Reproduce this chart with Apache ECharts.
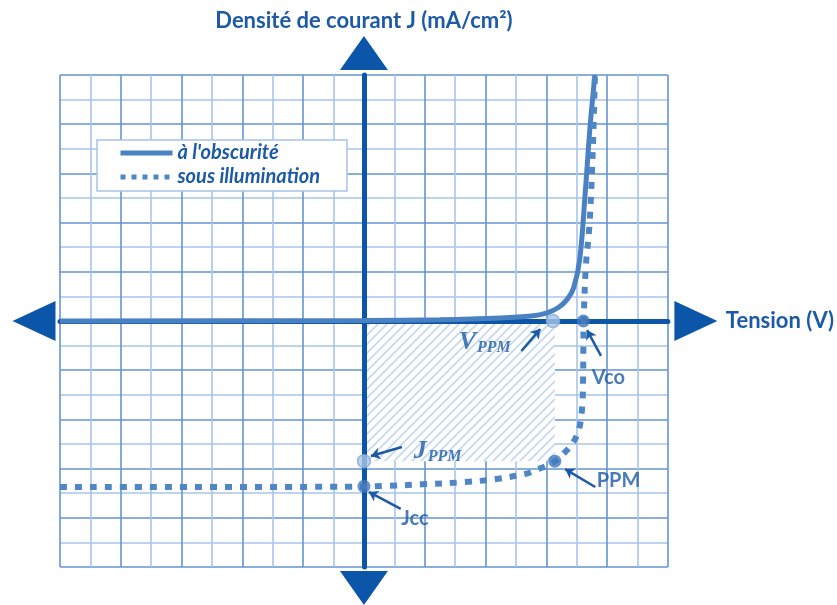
<!DOCTYPE html>
<html>
<head>
<meta charset="utf-8">
<script src="https://cdn.jsdelivr.net/npm/echarts@6/dist/echarts.min.js"></script>
<style>
html, body { margin: 0; padding: 0; background: #fff; }
#chart { width: 837px; height: 605px; }
</style>
</head>
<body>
<div id="chart"></div>
<script>
// J(V) values (V in grid squares, J in grid squares)
const darkCurve = [[-10, 0], [0, 0.02], [2.5, 0.05], [4.5, 0.12], [5.5, 0.2], [6.0, 0.32], [6.4, 0.55],
  [6.7, 0.9], [6.9, 1.35], [7.1, 2.5], [7.28, 5.2], [7.44, 7.9], [7.6, 10]];
const lightCurve = [[-10, -6.75], [-0.6, -6.74], [0.8, -6.7], [1.9, -6.64], [3.3, -6.55], [4.3, -6.43],
  [5.3, -6.22], [5.75, -6.02], [6.3, -5.69], [6.62, -5.33], [6.89, -4.92], [7.08, -4.39], [7.18, -3.5],
  [7.21, -2.4], [7.22, -1], [7.23, 0], [7.3, 2.2], [7.42, 3.9], [7.52, 6.6], [7.6, 10]];

const vppm = [6.22, 0];
const vco = [7.22, 0];
const ppm = [6.28, -5.7];
const jppm = [0, -5.7];
const jcc = [0, -6.72];

const labelNames = ['VPPM', 'JPPM', 'Vco', 'PPM', 'Jcc'];
const labelPos = [[3.1, -0.85], [1.62, -5.28], [7.48, -2.28], [7.64, -6.5], [1.21, -8.05]];
const arrowFrom = [[5.18, -1.22], [1.25, -5.12], [7.8, -1.42], [7.61, -6.75], [1.21, -7.64]];
const arrowTo = [[5.8, -0.33], [0.23, -5.49], [7.34, -0.37], [6.62, -6.02], [0.16, -6.95]];

const seriesNames = ["à l'obscurité", 'sous illumination'];

const blue = '#1d5aa6';
const axisBlue = '#0b56a8';

// hatch pattern for the power rectangle
const hatch = document.createElement('canvas');
hatch.width = 9;
hatch.height = 9;
const hctx = hatch.getContext('2d');
hctx.fillStyle = '#fff';
hctx.fillRect(0, 0, 9, 9);
hctx.strokeStyle = '#c4d7ef';
hctx.lineWidth = 1.6;
hctx.beginPath();
hctx.moveTo(0, 9); hctx.lineTo(9, 0);
hctx.moveTo(-2, 2); hctx.lineTo(2, -2);
hctx.moveTo(7, 11); hctx.lineTo(11, 7);
hctx.stroke();

const chart = echarts.init(document.getElementById('chart'));

const gridAxis = {
  type: 'value', min: -10, max: 10, interval: 1, z: 0,
  axisLine: { show: false }, axisTick: { show: false }, axisLabel: { show: false },
  splitLine: { show: true, lineStyle: { color: ['#6395d3', '#a8c5ea'], width: 1.6 } }
};

const sansBold = { fontFamily: 'Lato', fontWeight: 'bold', color: blue };

const option = {
  animation: false,
  grid: { left: 60, right: 167, top: 75, bottom: 38 },
  legend: {
    orient: 'vertical', left: 97, top: 140,
    padding: [3, 27, 4, 21],
    itemWidth: 52, itemHeight: 12, itemGap: 4,
    backgroundColor: '#fff', borderColor: '#a6c3e6', borderWidth: 1.5,
    itemStyle: { opacity: 0 },
    textStyle: { fontFamily: 'Lato', fontStyle: 'italic', fontWeight: 'bold', fontSize: 20, color: blue },
    data: [
      { name: seriesNames[0], lineStyle: { width: 5, color: '#4a81c3', type: 'solid' } },
      { name: seriesNames[1], lineStyle: { width: 5, color: '#4f86c6', type: [5, 6], cap: 'butt' } }
    ]
  },
  xAxis: [
    gridAxis,
    {
      type: 'value', min: -10, max: 10, z: 2,
      axisLine: {
        show: true, onZero: true, onZeroAxisIndex: 1,
        symbol: ['triangle', 'triangle'], symbolSize: [40, 43], symbolOffset: [-26, 28],
        lineStyle: { color: axisBlue, width: 5 }
      },
      axisTick: { show: false }, axisLabel: { show: false }, splitLine: { show: false },
      name: 'Tension (V)', nameLocation: 'end', nameGap: 58,
      nameTextStyle: Object.assign({ fontSize: 22 }, sansBold)
    }
  ],
  yAxis: [
    gridAxis,
    {
      type: 'value', min: -10, max: 10, z: 2,
      axisLine: {
        show: true, onZero: true, onZeroAxisIndex: 1,
        symbol: ['triangle', 'triangle'], symbolSize: [48, 34], symbolOffset: [-21, 22],
        lineStyle: { color: axisBlue, width: 5 }
      },
      axisTick: { show: false }, axisLabel: { show: false }, splitLine: { show: false },
      name: 'Densité de courant J (mA/cm²)', nameLocation: 'end', nameGap: 43,
      nameTextStyle: Object.assign({ fontSize: 22 }, sansBold)
    }
  ],
  series: [
    {
      name: 'zone', type: 'line', data: [], z: 1,
      markArea: {
        silent: true,
        itemStyle: { color: { image: hatch, repeat: 'repeat' } },
        data: [[{ coord: [0, 0] }, { coord: ppm }]]
      }
    },
    {
      name: seriesNames[0], type: 'line', data: darkCurve, z: 3,
      smooth: 0.35, symbol: 'none',
      lineStyle: { color: '#4a81c3', width: 5 }, itemStyle: { color: '#4a81c3' }
    },
    {
      name: seriesNames[1], type: 'line', data: lightCurve, z: 3,
      smooth: 0.35, symbol: 'none',
      lineStyle: { color: '#4f86c6', width: 6, type: [7, 8], cap: 'butt' }, itemStyle: { color: '#4f86c6' }
    },
    {
      name: 'points', type: 'scatter', z: 5, symbolSize: 13,
      data: [
        { value: vppm, itemStyle: { color: '#a9c6e7', borderColor: '#86acd9', borderWidth: 1.5 } },
        { value: jppm, itemStyle: { color: '#a9c6e7', borderColor: '#86acd9', borderWidth: 1.5 } },
        { value: vco, itemStyle: { color: '#3f78bd' } },
        { value: ppm, itemStyle: { color: '#3f78bd' } },
        { value: jcc, itemStyle: { color: '#3f78bd' } }
      ],
      markLine: {
        silent: true, symbol: ['none', 'arrow'], symbolSize: 9,
        label: { show: false },
        lineStyle: { color: blue, width: 2.5, type: 'solid' },
        data: arrowFrom.map((p, i) => [{ coord: p }, { coord: arrowTo[i] }])
      }
    },
    {
      name: 'labels', type: 'scatter', z: 6, symbolSize: 1,
      itemStyle: { color: 'rgba(0,0,0,0)' },
      data: labelPos.map((p, i) => ({ value: p, name: labelNames[i] })),
      label: {
        show: true, position: 'right', distance: 0,
        formatter: p => {
          if (p.name === 'VPPM') return '{v|V}{s|PPM}';
          if (p.name === 'JPPM') return '{v|J}{s|PPM}';
          return '{t|' + p.name + '}';
        },
        rich: {
          v: { fontFamily: 'Liberation Serif', fontStyle: 'italic', fontWeight: 'bold', fontSize: 26, color: blue },
          s: { fontFamily: 'Liberation Serif', fontStyle: 'italic', fontWeight: 'bold', fontSize: 16, color: blue, padding: [12, 0, 0, 1] },
          t: { fontFamily: 'Lato', fontWeight: 'bold', fontSize: 20, color: blue }
        }
      }
    }
  ]
};

chart.setOption(option);
</script>
</body>
</html>
